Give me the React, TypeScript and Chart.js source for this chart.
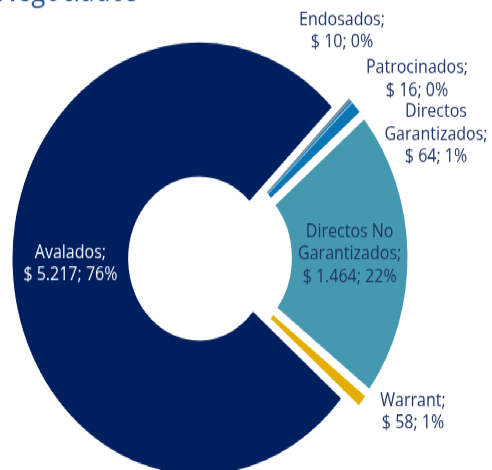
import React, { useEffect, useRef } from 'react';
import { Chart, registerables } from 'chart.js';

Chart.register(...registerables);

// ---- data ----
const categories = ['Endosados', 'Patrocinados', 'Directos Garantizados', 'Directos No Garantizados', 'Warrant', 'Avalados'];
const values = [10, 16, 64, 1464, 58, 5217];
const percentLabels = ['0%', '0%', '1%', '22%', '1%', '76%'];
const titleText = 'Negociados';

// ---- style ----
const colors = ['#808080', '#2A88C2', '#0A76B3', '#4599AF', '#E3AE00', '#001F5E'];
const explode = [10, 10, 10, 12, 10, 10];
const insideIdx = [3, 5];
const insideColors: Record<number, string> = { 3: '#1F3466', 5: '#F0F2F8' };
const outsidePos: Record<number, [number, number]> = {
  0: [342, 27],
  1: [417, 68.5],
  2: [436, 116],
  4: [413, 356],
};
const FONT = '"Open Sans", sans-serif';
const CANVAS_H = 406;
const STRETCH = 470 / CANVAS_H;

const fmt = (v: number) => '$ ' + String(v).replace(/\B(?=(\d{3})+(?!\d))/g, '.');
const labelLines = (i: number): string[] => {
  const c = categories[i];
  const words = c.split(' ');
  const head = words.length > 1 ? [words.slice(0, -1).join(' '), words[words.length - 1] + ';'] : [c + ';'];
  return [...head, fmt(values[i]) + '; ' + percentLabels[i]];
};

const explodePlugin = {
  id: 'explodeSlices',
  afterDatasetUpdate(chart: any, args: any) {
    args.meta.data.forEach((arc: any, i: number) => {
      const mid = (arc.startAngle + arc.endAngle) / 2;
      arc.x += explode[i] * Math.cos(mid);
      arc.y += explode[i] * Math.sin(mid);
    });
  },
};

const labelPlugin = {
  id: 'sliceLabels',
  afterDraw(chart: any) {
    const ctx = chart.ctx as CanvasRenderingContext2D;
    const arcs = chart.getDatasetMeta(0).data;
    ctx.save();
    ctx.textAlign = 'center';
    ctx.textBaseline = 'middle';
    ctx.font = `16px ${FONT}`;
    const lh = 19.5;
    arcs.forEach((arc: any, i: number) => {
      let x: number, y: number, color: string;
      if (insideIdx.includes(i)) {
        const p = arc.tooltipPosition();
        x = p.x; y = p.y; color = insideColors[i];
      } else {
        [x, y] = outsidePos[i];
        color = '#1F3466';
      }
      const lines = labelLines(i);
      ctx.fillStyle = color;
      const y0 = y - ((lines.length - 1) * lh) / 2;
      lines.forEach((t, k) => ctx.fillText(t, x, y0 + k * lh));
    });
    ctx.font = `26px ${FONT}`;
    ctx.textAlign = 'left';
    ctx.textBaseline = 'alphabetic';
    ctx.fillStyle = '#2F5597';
    ctx.fillText(titleText, -3, 0.5);
    ctx.restore();
  },
};

export default function App() {
  const ref = useRef<HTMLCanvasElement>(null);
  useEffect(() => {
    const chart = new Chart(ref.current as HTMLCanvasElement, {
      type: 'doughnut',
      data: {
        labels: categories,
        datasets: [{ data: values, backgroundColor: colors, borderWidth: 0 }],
      },
      options: {
        responsive: false,
        animation: false,
        rotation: 45.4,
        radius: 186.5,
        cutout: '38%',
        layout: { padding: { left: 0, right: 74, top: 40, bottom: 0 } },
        plugins: { legend: { display: false }, tooltip: { enabled: false } },
      } as any,
      plugins: [explodePlugin, labelPlugin],
    });
    return () => chart.destroy();
  }, []);
  return (
    <div
      style={{
        position: 'fixed',
        left: 0,
        top: 0,
        width: 492,
        height: CANVAS_H,
        transform: `scaleY(${STRETCH})`,
        transformOrigin: '0 0',
        background: '#fff',
      }}
    >
      <canvas ref={ref} width={492} height={CANVAS_H} style={{ display: 'block' }} />
    </div>
  );
}
